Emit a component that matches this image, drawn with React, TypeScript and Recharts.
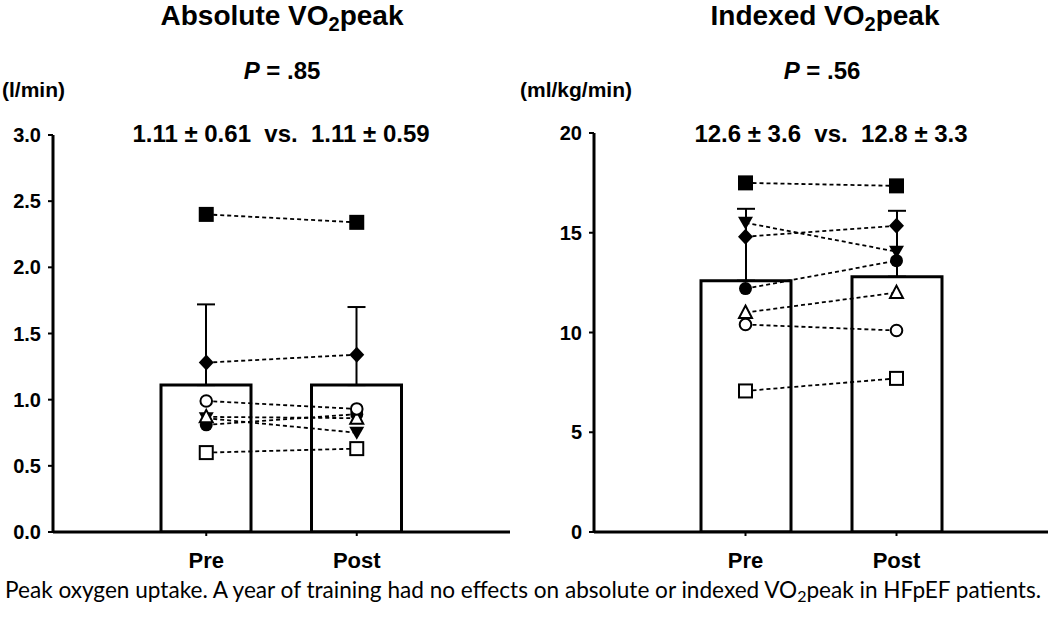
import { ComposedChart, Bar, Line, XAxis, YAxis, ErrorBar } from 'recharts'

const categories = ['Pre', 'Post']

// absolute VO2peak (l/min)
const absMean = [1.11, 1.11]
const absSd = [0.61, 0.59]
const absTicks = [0, 0.5, 1, 1.5, 2, 2.5, 3]
const absCircleFilled = [0.81, 0.89]
const absTriangleDown = [0.86, 0.75]
const absTriangleOpen = [0.87, 0.86]
const absCircleOpen = [0.99, 0.93]
const absDiamond = [1.28, 1.34]
const absSquareOpen = [0.6, 0.63]
const absSquareFilled = [2.4, 2.34]

// indexed VO2peak (ml/kg/min)
const idxMean = [12.6, 12.8]
const idxSd = [3.6, 3.3]
const idxTicks = [0, 5, 10, 15, 20]
const idxCircleFilled = [12.2, 13.6]
const idxTriangleDown = [15.5, 14.05]
const idxTriangleOpen = [11.0, 12.0]
const idxCircleOpen = [10.4, 10.1]
const idxDiamond = [14.8, 15.35]
const idxSquareOpen = [7.07, 7.7]
const idxSquareFilled = [17.5, 17.35]

const markerKinds = ['circleFilled', 'triangleDown', 'triangleOpen', 'circleOpen', 'diamond', 'squareOpen', 'squareFilled']

const FONT = '"Liberation Sans", Arial, sans-serif'

function Marker({ kind, cx, cy }: { kind: string; cx: number; cy: number }) {
  if (cx == null || cy == null) return null
  switch (kind) {
    case 'squareFilled':
      return <rect x={cx - 7.5} y={cy - 7.5} width={15} height={15} fill="#000" />
    case 'squareOpen':
      return <rect x={cx - 6.5} y={cy - 6.5} width={13} height={13} fill="#fff" stroke="#000" strokeWidth={2} />
    case 'circleFilled':
      return <circle cx={cx} cy={cy} r={6.5} fill="#000" />
    case 'circleOpen':
      return <circle cx={cx} cy={cy} r={5.8} fill="#fff" stroke="#000" strokeWidth={2} />
    case 'diamond':
      return <polygon points={`${cx},${cy - 8} ${cx + 7.5},${cy} ${cx},${cy + 8} ${cx - 7.5},${cy}`} fill="#000" />
    case 'triangleOpen':
      return <polygon points={`${cx},${cy - 7} ${cx + 6.5},${cy + 5.5} ${cx - 6.5},${cy + 5.5}`} fill="#fff" stroke="#000" strokeWidth={2} />
    case 'triangleDown':
      return <polygon points={`${cx - 7.5},${cy - 6} ${cx + 7.5},${cy - 6} ${cx},${cy + 7}`} fill="#000" />
  }
  return null
}

interface PanelProps {
  left: number
  width: number
  top: number
  yWidth: number
  rightMargin: number
  pad: number
  mean: number[]
  sd: number[]
  subjects: number[][]
  ticks: number[]
  fmt: (v: number) => string
}

function Panel({ left, width, top, yWidth, rightMargin, pad, mean, sd, subjects, ticks, fmt }: PanelProps) {
  const data = categories.map((c, i) => {
    const row: any = { name: c, mean: mean[i], err: [0, sd[i]] }
    subjects.forEach((s, k) => { row['s' + k] = s[i] })
    return row
  })
  const tickStyle = { fill: '#000', fontSize: 20, fontWeight: 'bold', fontFamily: FONT }

  return (
    <div style={{ position: 'absolute', left, top: 0 }}>
      <ComposedChart width={width} height={626} data={data} margin={{ top, right: rightMargin, bottom: 54, left: 0 }}>
        <XAxis
          dataKey="name"
          padding={{ left: pad, right: pad }}
          height={40}
          axisLine={{ stroke: '#000', strokeWidth: 3 }}
          tickLine={{ stroke: '#000', strokeWidth: 2 }}
          tickSize={4}
          tickMargin={16}
          tick={{ ...tickStyle, fontSize: 22 }}
        />
        <YAxis
          domain={[ticks[0], ticks[ticks.length - 1]]}
          ticks={ticks}
          width={yWidth}
          axisLine={{ stroke: '#000', strokeWidth: 3 }}
          tickLine={{ stroke: '#000', strokeWidth: 2 }}
          tickSize={5}
          tickMargin={7}
          tick={tickStyle}
          tickFormatter={fmt}
          allowDataOverflow
        />
        <Bar dataKey="mean" barSize={90} fill="#fff" stroke="#000" strokeWidth={3} isAnimationActive={false}>
          <ErrorBar dataKey="err" direction="y" width={9} stroke="#000" strokeWidth={2} />
        </Bar>
        {subjects.map((_, k) => (
          <Line
            key={k}
            dataKey={'s' + k}
            type="linear"
            stroke="#000"
            strokeWidth={1.8}
            strokeDasharray="4 3"
            activeDot={false}
            isAnimationActive={false}
            dot={(p: any) => <Marker key={`m${k}-${p.index}`} kind={markerKinds[k]} cx={p.cx} cy={p.cy} />}
          />
        ))}
      </ComposedChart>
    </div>
  )
}

function Title({ x, y, text }: { x: number; y: number; text: string }) {
  return (
    <text x={x} y={y} textAnchor="middle" fontSize={28} fontWeight="bold">
      {text} VO<tspan fontSize={20} dy={6}>2</tspan><tspan dy={-6}>peak</tspan>
    </text>
  )
}

export default function App() {
  const absSubjects = [absCircleFilled, absTriangleDown, absTriangleOpen, absCircleOpen, absDiamond, absSquareOpen, absSquareFilled]
  const idxSubjects = [idxCircleFilled, idxTriangleDown, idxTriangleOpen, idxCircleOpen, idxDiamond, idxSquareOpen, idxSquareFilled]

  return (
    <div style={{ position: 'relative', width: 1050, height: 626, background: '#fff', overflow: 'hidden' }}>
      <style>{'body{margin:0}'}</style>
      <Panel left={0} width={520} top={135} yWidth={53} rightMargin={10} pad={78}
        mean={absMean} sd={absSd} subjects={absSubjects} ticks={absTicks} fmt={(v) => v.toFixed(1)} />
      <Panel left={520} width={530} top={133} yWidth={74} rightMargin={2} pad={76}
        mean={idxMean} sd={idxSd} subjects={idxSubjects} ticks={idxTicks} fmt={(v) => String(v)} />
      <svg width={1050} height={626} style={{ position: 'absolute', left: 0, top: 0, pointerEvents: 'none' }}
        fontFamily={FONT} fill="#000">
        <Title x={282} y={25} text="Absolute" />
        <Title x={825} y={25} text="Indexed" />
        <text x={282} y={79} textAnchor="middle" fontSize={24} fontWeight="bold">
          <tspan fontStyle="italic">P</tspan> = .85
        </text>
        <text x={822} y={79} textAnchor="middle" fontSize={24} fontWeight="bold">
          <tspan fontStyle="italic">P</tspan> = .56
        </text>
        <text x={2} y={97} fontSize={21} fontWeight="bold">(l/min)</text>
        <text x={520} y={97} fontSize={21} fontWeight="bold">(ml/kg/min)</text>
        <text x={281} y={142} textAnchor="middle" fontSize={24} fontWeight="bold" style={{ whiteSpace: 'pre' }}>
          {'1.11 ± 0.61  vs.  1.11 ± 0.59'}
        </text>
        <text x={831} y={142} textAnchor="middle" fontSize={24} fontWeight="bold" style={{ whiteSpace: 'pre' }}>
          {'12.6 ± 3.6  vs.  12.8 ± 3.3'}
        </text>
        <text x={5} y={598} fontSize={22.6} fontFamily="Lato, sans-serif">
          Peak oxygen uptake. A year of training had no effects on absolute or indexed VO<tspan fontSize={16} dy={4}>2</tspan><tspan dy={-4}>peak in HFpEF patients.</tspan>
        </text>
      </svg>
    </div>
  )
}
